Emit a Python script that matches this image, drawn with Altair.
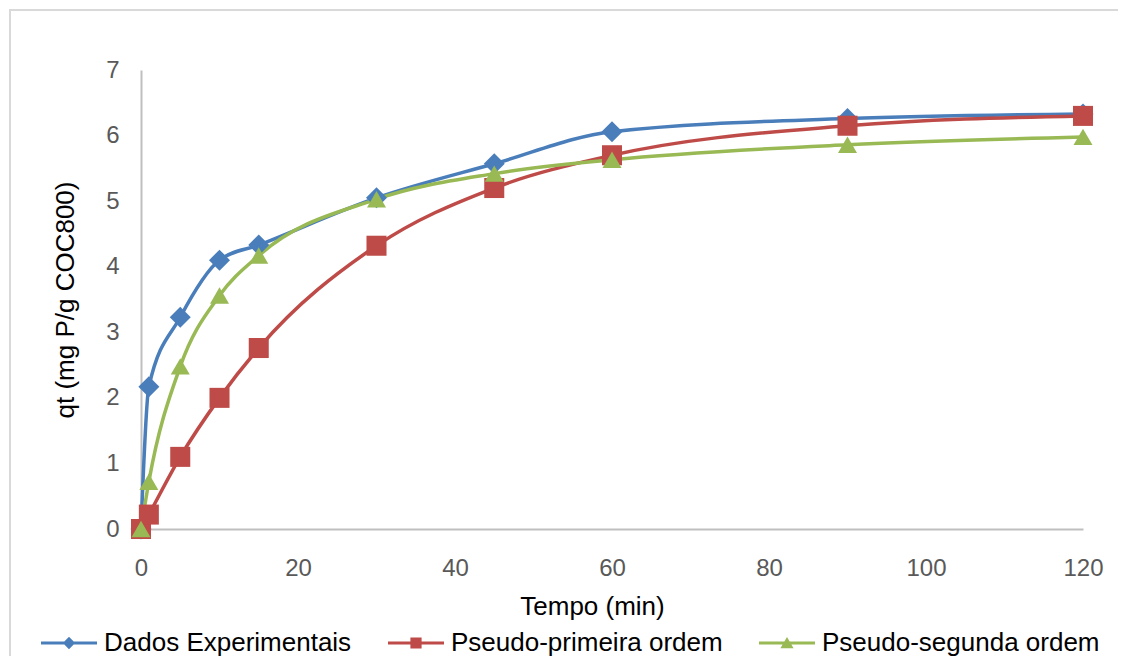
import altair as alt
import pandas as pd

# ---- data ----
tempo = [0, 1, 5, 10, 15, 30, 45, 60, 90, 120]
dados_experimentais = [0.0, 2.17, 3.23, 4.10, 4.33, 5.05, 5.57, 6.06, 6.26, 6.33]
pseudo_primeira = [0.0, 0.22, 1.10, 2.00, 2.76, 4.32, 5.20, 5.70, 6.15, 6.30]
pseudo_segunda = [0.0, 0.72, 2.48, 3.56, 4.17, 5.03, 5.42, 5.63, 5.86, 5.98]

series_names = ["Dados Experimentais", "Pseudo-primeira ordem", "Pseudo-segunda ordem"]
series_colors = ["#4A7EBB", "#BE4B48", "#98B954"]
series_shapes = ["diamond", "square", "triangle-up"]

x_ticks = [0, 20, 40, 60, 80, 100, 120]
y_ticks = [0, 1, 2, 3, 4, 5, 6, 7]

rows = []
for name, vals in zip(series_names, [dados_experimentais, pseudo_primeira, pseudo_segunda]):
    for t, v in zip(tempo, vals):
        rows.append({"Tempo": t, "qt": v, "Série": name})
df = pd.DataFrame(rows)

FONT = "Liberation Sans"

# legend symbols: line segment with the marker in its middle (units of r)
line_path = "M-1,-0.055L1,-0.055L1,0.055L-1,0.055Z"
legend_shapes = [
    line_path + "M-0.22,0L0,-0.22L0.22,0L0,0.22Z",
    line_path + "M-0.2,-0.2L0.2,-0.2L0.2,0.2L-0.2,0.2Z",
    line_path + "M0,-0.21L0.235,0.19L-0.235,0.19Z",
]

legend = alt.Legend(
    title=None,
    orient="none",
    direction="horizontal",
    legendX=-100,
    legendY=545,
    symbolSize=3136,
    symbolStrokeWidth=0,
    symbolOpacity=1,
    labelFont=FONT,
    labelFontSize=26,
    labelColor="#000000",
    labelOffset=7,
    labelLimit=500,
    columnPadding=36,
    padding=0,
)

x_enc = alt.X(
    "Tempo:Q",
    scale=alt.Scale(domain=[0, 120], nice=False),
    axis=alt.Axis(
        title="Tempo (min)",
        values=x_ticks,
        format="d",
        grid=False,
        ticks=False,
        tickSize=0,
        labelFlush=False,
        domainColor="#BFBFBF",
        domainWidth=2,
        labelFont=FONT,
        labelFontSize=24,
        labelColor="#595959",
        labelPadding=27,
        titleFont=FONT,
        titleFontSize=26,
        titleFontWeight="normal",
        titleColor="#000000",
        titleX=451,
        titleY=77,
        titleBaseline="middle",
        titleAlign="center",
    ),
)

y_enc = alt.Y(
    "qt:Q",
    scale=alt.Scale(domain=[0, 7], nice=False),
    axis=alt.Axis(
        title="qt (mg P/g COC800)",
        values=y_ticks,
        format="d",
        grid=False,
        ticks=False,
        tickSize=0,
        labelFlush=False,
        domainColor="#BFBFBF",
        domainWidth=2,
        labelFont=FONT,
        labelFontSize=24,
        labelColor="#595959",
        labelPadding=22,
        titleFont=FONT,
        titleFontSize=26,
        titleFontWeight="normal",
        titleColor="#000000",
        titleX=-76,
        titleY=229.5,
        titleBaseline="middle",
        titleAlign="center",
        titleAngle=270,
    ),
)

color_scale = alt.Scale(domain=series_names, range=series_colors)

base = alt.Chart(df)

lines = base.mark_line(strokeWidth=3.5, interpolate="monotone").encode(
    x=x_enc,
    y=y_enc,
    color=alt.Color("Série:N", scale=color_scale, legend=None),
)

points = base.mark_point(filled=True, opacity=1, strokeWidth=0).encode(
    x="Tempo:Q",
    y="qt:Q",
    color=alt.Color("Série:N", scale=color_scale, legend=None),
    shape=alt.Shape(
        "Série:N",
        scale=alt.Scale(domain=series_names, range=series_shapes),
        legend=None,
    ),
    size=alt.Size(
        "Série:N",
        scale=alt.Scale(domain=series_names, range=[441, 361, 480]),
        legend=None,
    ),
)

# invisible layer carrying the legend (line + marker symbols)
legend_layer = base.mark_point(filled=True, opacity=0, size=0).encode(
    x="Tempo:Q",
    y="qt:Q",
    color=alt.Color("Série:N", scale=color_scale, sort=series_names, legend=legend),
    shape=alt.Shape(
        "Série:N",
        scale=alt.Scale(domain=series_names, range=legend_shapes),
        sort=series_names,
        legend=legend,
    ),
)

frame_df = pd.DataFrame({"f": [0]})
frame_left = alt.Chart(frame_df).mark_rule(color="#D9D9D9", strokeWidth=2).encode(
    x=alt.value(-131), y=alt.value(-60), y2=alt.value(700)
)
frame_top = alt.Chart(frame_df).mark_rule(color="#D9D9D9", strokeWidth=2).encode(
    x=alt.value(-132), x2=alt.value(1100), y=alt.value(-60)
)

chart = (
    alt.layer(frame_left, frame_top, lines, points, legend_layer)
    .resolve_scale(shape="independent", color="independent", size="independent")
    .properties(
        width=942,
        height=459,
        autosize=alt.AutoSizeParams(type="none"),
        padding={"left": 133, "top": 62, "right": 35, "bottom": 127},
        background="white",
    )
    .configure_view(stroke=None)
)

chart.save("out.html", embed_options={"renderer": "svg", "actions": False})
